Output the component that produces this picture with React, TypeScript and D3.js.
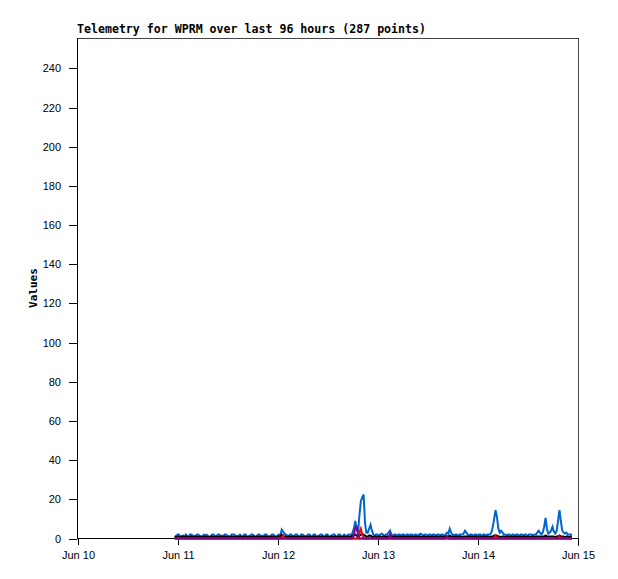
import React from "react";
import * as d3 from "d3";

const title = "Telemetry for WPRM over last 96 hours (287 points)";
const yLabel = "Values";
const xTickDays = [10, 11, 12, 13, 14, 15];
const xTickLabels = ["Jun 10", "Jun 11", "Jun 12", "Jun 13", "Jun 14", "Jun 15"];
const yTicks = [0, 20, 40, 60, 80, 100, 120, 140, 160, 180, 200, 220, 240];
const yMax = 255.3;
const startTime = Date.UTC(2024, 5, 10, 23, 20);
const stepMinutes = 20;

const blue = [
  1.5,1,2,2,1,1,1.5,1,2,1,
  1,2,2,1.5,1,1,2,2,1,1,
  1,2,1.5,2,1,1,1,2,2,1,
  1,2,2,1,1.5,1,2,2,1,1,
  1,2,2,2,1,1,1.5,2,1,1,
  2,2,1,1,1,2,2,1.5,1,1,
  2,2,1,1,1.5,2,2,1,1,1,
  2,2,1,1,1.5,2,1,4.5,3.5,2.5,
  2,1.5,1,2,2,1,1,2,2,1,
  1,2,2,1.5,1,1,2,2,1,1,
  2,2,1,1,1.5,2,2,1,1,2,
  2,1,1,1.5,2,2,1,1,2,2,
  1,1,2,1.5,1,2,2,1.5,3,5,
  9,5,3,12,19,21,22.5,8,3,3,
  5,7,4,2,1.5,2,2,1,2,2.5,
  2,1,2,2,3,4,2,1.5,2,2,
  1,2,2,1.5,2,2,1,2,2,1.5,
  2,2,1,2,2,1,2,2.5,2,1.5,
  2,2,1,2,2,1.5,2,2,1,2,
  2,1.5,2,2,1,2,3,2.5,5,3,
  2,1.5,2,2,1,2,2,2,2.5,4,
  3,2,1.5,2,2,1,2,2,1.5,2,
  2,1,2,2,1.5,2,2,2,3,6,
  10,14.5,11,5,3,4,3,2,2,1.5,
  2,2,1,2,2,1.5,2,2,1,2,
  2,1.5,2,2,1,2,2,2,1.5,2,
  2,3,4,3,2,3,6,10.5,5,2.5,
  3,4,6,3.5,2.5,4,9,14.5,9,4,
  3,2.5,3,2,2,2,2,
];

const black = [
  1,0.5,1,1,0.5,1,1,0.5,1,1,
  0.5,1,1,0.5,1,1,1,0.5,1,1,
  0.5,1,1,0.5,1,0.5,1,1,0.5,1,
  1,0.5,1,1,0.5,1,1,0.5,1,1,
  0.5,1,1,0.5,1,1,0.5,1,1,0.5,
  1,1,0.5,1,1,0.5,1,1,0.5,1,
  1,0.5,1,1,0.5,1,1,0.5,1,1,
  0.5,1,1,0.5,1,1,1,2,1.5,1,
  1,0.5,1,1,0.5,1,1,0.5,1,1,
  0.5,1,1,0.5,1,1,0.5,1,1,0.5,
  1,1,0.5,1,1,0.5,1,1,0.5,1,
  1,0.5,1,1,0.5,1,1,0.5,1,1,
  0.5,1,1,0.5,1,1,0.5,1,1.5,1.5,
  2,1.5,1,1.5,2,2,2,1.5,1,1,
  1.5,1.5,1,0.5,1,1,0.5,1,1,0.5,
  1,1,0.5,1,1,1.5,1,0.5,1,1,
  0.5,1,1,0.5,1,1,0.5,1,1,0.5,
  1,1,0.5,1,1,0.5,1,1,0.5,1,
  1,0.5,1,1,0.5,1,1,0.5,1,1,
  0.5,1,1,0.5,1,1,1,1,1.5,1,
  1,0.5,1,1,0.5,1,1,0.5,1,1,
  1,1,0.5,1,1,0.5,1,1,0.5,1,
  1,0.5,1,1,0.5,1,1,0.5,1,1,
  1.5,1.5,1.5,1,1,0.5,1,1,0.5,1,
  1,0.5,1,1,0.5,1,1,0.5,1,1,
  0.5,1,1,0.5,1,1,0.5,1,1,0.5,
  1,1,1,1,0.5,1,1,1.5,1,1,
  1,1,1,1,0.5,1,1,1.5,1,1,
  1,0.5,1,1,0.5,1,1,
];

// sparse series: [point index, value]; all other points read as 0
const redPoints = [[78, 1.5], [133, 3], [134, 5], [135, 2], [196, 1], [231, 1.5], [277, 1]];
const purplePoints = [[129, 2], [130, 5.5], [131, 6], [132, 2], [155, 2], [196, 1]];
const greenPoints = [[128, 0.5], [141, 0.5], [143, 0.5]];

const N = 287;
const times = d3.range(N).map((i) => new Date(startTime + i * stepMinutes * 60000));

function fromSparse(pts: number[][]) {
  const m = new Map(pts.map((p) => [p[0], p[1]]));
  return times.map((_, i) => m.get(i) ?? 0);
}

// drawing order: first drawn is underneath
const series = [
  { name: "blue", color: "#0066cc", values: blue },
  { name: "green", color: "#00aa00", values: fromSparse(greenPoints) },
  { name: "black", color: "#000000", values: black },
  { name: "red", color: "#ff0000", values: fromSparse(redPoints) },
  { name: "purple", color: "#880088", values: fromSparse(purplePoints) },
];

export default function App() {
  const W = 618, H = 579;
  const left = 77, right = 578, top = 38, bottom = 538;
  const x = d3
    .scaleUtc()
    .domain([new Date(Date.UTC(2024, 5, 10)), new Date(Date.UTC(2024, 5, 15))])
    .range([left + 0.5, right - 0.5]);
  const y = d3.scaleLinear().domain([0, yMax]).range([bottom + 0.5, top + 0.5]);
  const line = d3
    .line<number>()
    .x((_, i) => x(times[i]))
    .y((d) => y(d));

  const tickFont = "'Liberation Sans', Arial, sans-serif";
  const monoFont = "'DejaVu Sans Mono', monospace";

  return (
    <svg width={W} height={H} style={{ position: "absolute", left: 0, top: 0, background: "#fff" }}>
      <rect x={0} y={0} width={W} height={H} fill="#fff" />
      <text x={left} y={33} fontFamily={monoFont} fontWeight="bold" fontSize={12} textLength={349} lengthAdjust="spacingAndGlyphs" fill="#000">
        {title}
      </text>
      <text
        transform={`translate(37, ${(top + bottom) / 2}) rotate(-90)`}
        textAnchor="middle"
        fontFamily={monoFont}
        fontWeight="bold"
        fontSize={11}
        fill="#000"
      >
        {yLabel}
      </text>
      {/* frame top/right */}
      <line x1={left} x2={right + 0.5} y1={top + 0.5} y2={top + 0.5} stroke="#444" strokeWidth={1} shapeRendering="crispEdges" />
      <line x1={right + 0.5} x2={right + 0.5} y1={top} y2={bottom + 8} stroke="#444" strokeWidth={1} shapeRendering="crispEdges" />
      {/* y ticks */}
      {yTicks.map((t) => (
        <g key={t}>
          <line x1={left - 8} x2={left} y1={Math.round(y(t)) + 0.5} y2={Math.round(y(t)) + 0.5} stroke="#000" shapeRendering="crispEdges" />
          <text x={left - 16} y={y(t) + 4} textAnchor="end" fontFamily={tickFont} fontSize={11} fill="#000">
            {t}
          </text>
        </g>
      ))}
      {/* x ticks */}
      {xTickDays.map((d, i) => {
        const xp = Math.round(x(new Date(Date.UTC(2024, 5, d)))) + 0.5;
        return (
          <g key={d}>
            <line x1={xp} x2={xp} y1={bottom} y2={bottom + 7} stroke="#000" shapeRendering="crispEdges" />
            <text x={xp} y={559} textAnchor="middle" fontFamily={tickFont} fontSize={11} fill="#000">
              {xTickLabels[i]}
            </text>
          </g>
        );
      })}
      {/* axes */}
      <line x1={left + 0.5} x2={left + 0.5} y1={top} y2={bottom + 1} stroke="#000" shapeRendering="crispEdges" />
      <line x1={left} x2={right + 1} y1={bottom + 0.5} y2={bottom + 0.5} stroke="#000" shapeRendering="crispEdges" />
      {/* series */}
      {series.map((s) => (
        <path key={s.name} d={line(s.values) || ""} fill="none" stroke={s.color} strokeWidth={2} strokeLinejoin="miter" />
      ))}
    </svg>
  );
}
